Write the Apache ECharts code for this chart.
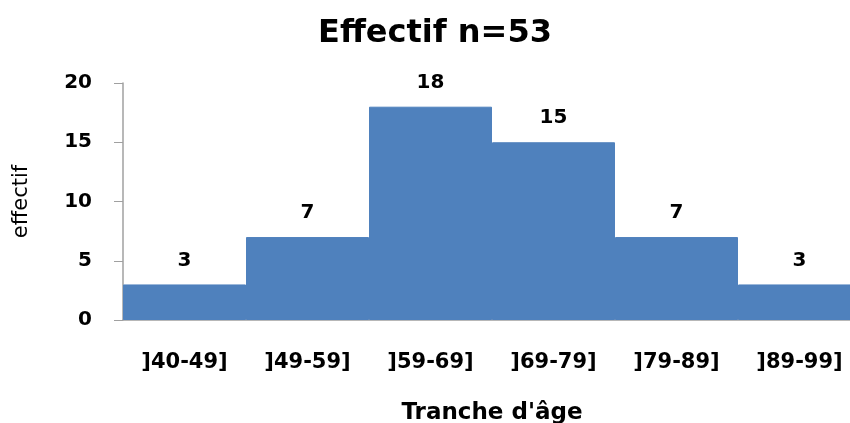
<!DOCTYPE html>
<html>
<head>
<meta charset="utf-8">
<script src="https://cdn.jsdelivr.net/npm/echarts@6/dist/echarts.min.js"></script>
<style>
  html, body { margin: 0; padding: 0; background: #fff; }
  #chart { width: 850px; height: 423px; }
</style>
</head>
<body>
<div id="chart"></div>
<script>
  // tranches d'age et effectifs
  const categories = [']40-49]', ']49-59]', ']59-69]', ']69-79]', ']79-89]', ']89-99]'];
  const effectifs = [3, 7, 18, 15, 7, 3];
  const yTicks = [0, 5, 10, 15, 20];

  const font = 'DejaVu Sans';
  const chart = echarts.init(document.getElementById('chart'));
  chart.setOption({
    animation: false,
    title: {
      text: 'Effectif n=53',
      left: 430,
      textAlign: 'center',
      top: 13,
      textStyle: { fontFamily: font, fontWeight: 'bold', fontSize: 32, color: '#000' }
    },
    grid: { left: 123, top: 83, width: 738, height: 237, outerBoundsMode: 'none' },
    xAxis: {
      type: 'category',
      data: categories,
      name: "Tranche d'âge",
      nameLocation: 'middle',
      nameGap: 82,
      nameTextStyle: { fontFamily: font, fontWeight: 'bold', fontSize: 23, color: '#000' },
      axisLine: { lineStyle: { color: '#a0a0a0', width: 1.5 } },
      axisTick: { show: false },
      axisLabel: { margin: 32, fontFamily: font, fontWeight: 'bold', fontSize: 21, color: '#000' }
    },
    yAxis: {
      type: 'value',
      min: 0,
      max: 20,
      interval: 5,
      name: 'effectif',
      nameLocation: 'middle',
      nameGap: 91,
      nameTextStyle: { fontFamily: font, fontSize: 21, color: '#000' },
      axisLine: { show: true, lineStyle: { color: '#a0a0a0', width: 1.5 } },
      axisTick: { show: true, length: 9, lineStyle: { color: '#a0a0a0' } },
      splitLine: { show: false },
      axisLabel: {
        margin: 31,
        fontFamily: font, fontWeight: 'bold', fontSize: 20, color: '#000',
        formatter: v => yTicks.includes(v) ? String(v) : ''
      }
    },
    series: [{
      type: 'bar',
      data: effectifs,
      barWidth: '100%',
      barCategoryGap: 0,
      itemStyle: { color: '#4F81BD', borderColor: '#4F81BD', borderWidth: 1 },
      label: {
        show: true,
        position: 'top',
        distance: 14,
        fontFamily: font, fontWeight: 'bold', fontSize: 20, color: '#000'
      }
    }]
  });
</script>
</body>
</html>
